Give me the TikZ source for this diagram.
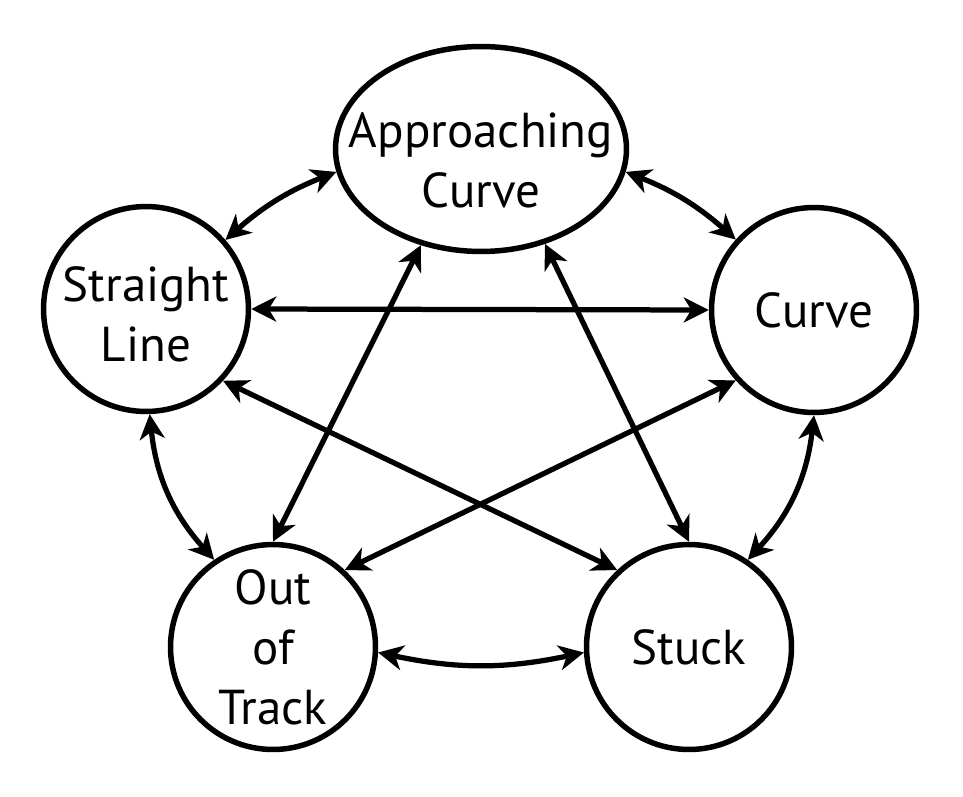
\documentclass[tikz,border=0pt]{standalone}
\usepackage{fontspec}
\setsansfont{PT Sans}
\usetikzlibrary{arrows.meta,shapes.geometric}
\tikzset{
  fsm diagram/.style={font=\sffamily\fontsize{27.9pt}{34.1pt}\selectfont,
    line cap=round, line join=round},
  fsm state/.style={draw, circle, line width=0.11cm, fill=white,
    minimum size=4.1cm, inner sep=0pt, align=center},
  fsm goal/.style={fsm state, ellipse, inner xsep=-0.7cm,
    minimum width=5.82cm, minimum height=4.1cm},
  fsm arrow/.style={{Stealth[length=0.5cm,width=0.5cm,inset=0.15cm]}-{Stealth[length=0.5cm,width=0.5cm,inset=0.15cm]},
    line width=0.105cm}
}

\begin{document}
\begin{tikzpicture}[fsm diagram, x=0.02cm, y=0.02cm]
\useasboundingbox (0,0) rectangle (963,796);
\node[fsm goal] (app) at (481,647) {\rule{0pt}{1.14cm}Approaching\\Curve};
\node[fsm state] (straight) at (146,487) {\rule{0pt}{0.9cm}Straight\\Line};
\node[fsm state] (curve) at (814,486) {Curve};
\node[fsm state] (out) at (273,149) {Out\\of\\Track};
\node[fsm state] (stuck) at (689,149) {Stuck};
% neighbours on the ring
\draw[fsm arrow] (app.351) to[bend left=10] (curve.138);
\draw[fsm arrow] (curve.270) to[bend left=18] (stuck.56);
\draw[fsm arrow] (stuck.183) to[bend left=12] (out.357);
\draw[fsm arrow] (out.124) to[bend left=18] (straight.272);
\draw[fsm arrow] (straight.41) to[bend left=10] (app.189);
% across the ring
\draw[fsm arrow] (straight.0) -- (curve.180);
\draw[fsm arrow] (app.238) -- (out.90);
\draw[fsm arrow] (app.304) -- (stuck.90);
\draw[fsm arrow] (straight.317) -- (stuck.133);
\draw[fsm arrow] (curve.222) -- (out.47);
\end{tikzpicture}
\end{document}
